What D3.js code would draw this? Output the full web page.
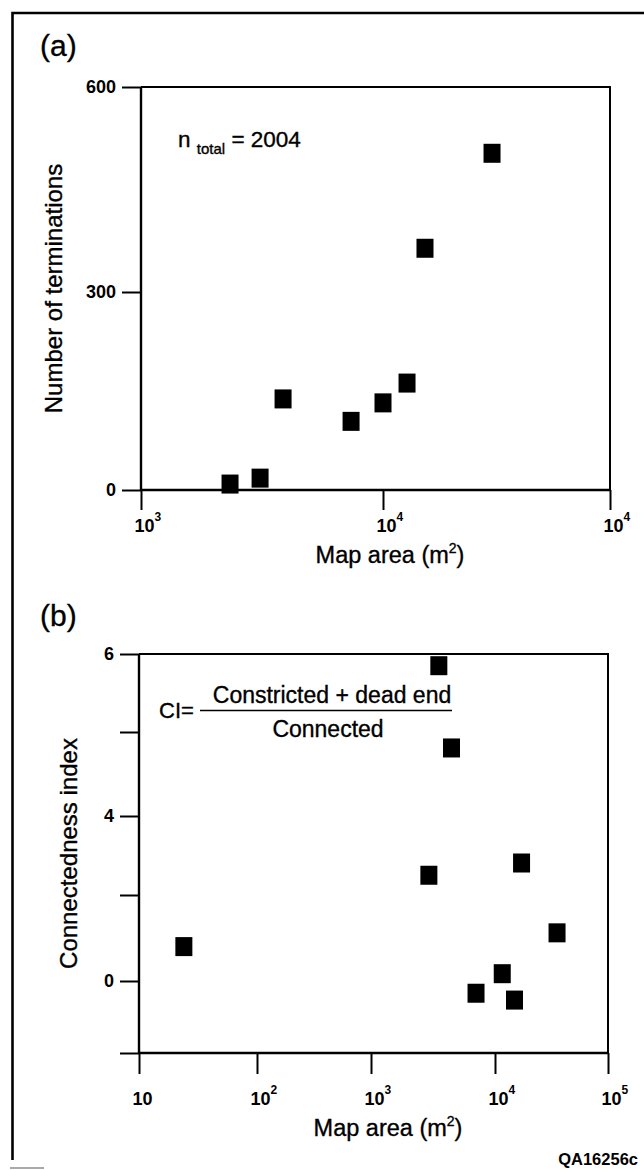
<!DOCTYPE html>
<html>
<head>
<meta charset="utf-8">
<script src="https://cdn.jsdelivr.net/npm/d3@7/dist/d3.min.js"></script>
<style>
  html, body { margin: 0; padding: 0; background: #fff; }
  svg { display: block; }
  text { font-family: "Liberation Sans", Arial, Helvetica, sans-serif; fill: #000; }
  .heavy { stroke: #000; stroke-width: 0.35px; }
</style>
</head>
<body>
<svg id="chart" width="644" height="1170"></svg>
<script>
// ---------- Data: panel (a) ----------
const xTicksA = [1e3, 1e4, 1e5];
const xTickBaseA = ["10", "10", "10"];
const xTickExpA = ["3", "4", "4"];          // printed as in the original figure
const yTicksA = [0, 300, 600];
const yTickLabelsA = ["0", "300", "600"];
const areaA = [2333, 3105, 3864, 7380, 10000, 12760, 15310, 30220];
const terminationsA = [9, 18, 138, 104, 132, 162, 364, 503];

// ---------- Data: panel (b) ----------
const xTicksB = [10, 100, 1e3, 1e4, 1e5];
const xTickBaseB = ["10", "10", "10", "10", "10"];
const xTickExpB = ["", "2", "3", "4", "5"];
const yTicksB = [-2, 0, 2, 4, 5, 6];
const yTickLabelsB = ["", "0", "", "4", "", "6"];
const areaB = [24, 2929, 3524, 4459, 7031, 11590, 14880, 17180, 35400];
const ciB = [0.80, 2.50, 5.85, 4.81, -0.34, 0.17, -0.53, 2.81, 1.12];

// ---------- Drawing ----------
const svg = d3.select("#chart");
const FONT = '"Liberation Sans", Arial, Helvetica, sans-serif';
const SQ_W = 17, SQ_H = 19;

// outer frame
svg.append("path")
  .attr("d", "M12.5,1160 V13 H644")
  .attr("fill", "none").attr("stroke", "#000").attr("stroke-width", 2.6);
svg.append("line").attr("x1", 10).attr("x2", 44).attr("y1", 1168).attr("y2", 1168)
  .attr("stroke", "#aaa").attr("stroke-width", 2);

function panel(opt) {
  const g = svg.append("g");
  const x = opt.x, y = opt.y;
  const [x0, x1] = [x.range()[0], x.range()[x.range().length - 1]];
  const [yb, yt] = [y.range()[0], y.range()[y.range().length - 1]];

  // box top & right
  g.append("path")
    .attr("d", `M${x0},${yt} H${x1} V${yb}`)
    .attr("fill", "none").attr("stroke", "#000").attr("stroke-width", 2);

  // x axis
  const gx = g.append("g").attr("transform", `translate(0,${yb})`)
    .call(d3.axisBottom(x).tickValues(opt.xTicks).tickSize(opt.xTickLen).tickSizeOuter(0).tickFormat(() => ""));
  gx.select(".domain").attr("stroke-width", 2.4).attr("d", `M${x0},0H${x1}`);
  gx.selectAll(".tick line").attr("stroke-width", 2);
  gx.selectAll(".tick text").remove();
  gx.selectAll(".tick").each(function (d, i) {
    const t = d3.select(this);
    t.append("text")
      .attr("x", 3).attr("y", opt.xLabelBase)
      .attr("text-anchor", "middle")
      .attr("font-size", 18).attr("font-weight", "bold")
      .text(opt.xBase[i]);
    if (opt.xExp[i]) {
      t.append("text")
        .attr("x", 13).attr("y", opt.xLabelBase - 11)
        .attr("text-anchor", "start")
        .attr("font-size", 12).attr("font-weight", "bold")
        .text(opt.xExp[i]);
    }
  });

  // y axis
  const gy = g.append("g").attr("transform", `translate(${x0},0)`)
    .call(d3.axisLeft(y).tickValues(opt.yTicks).tickSize(19).tickSizeOuter(0).tickPadding(6)
      .tickFormat((d, i) => opt.yLabels[i]));
  gy.select(".domain").attr("stroke-width", 2.4).attr("d", `M0,${yb}V${yt}`);
  gy.selectAll(".tick line").attr("stroke-width", 2);
  gy.selectAll(".tick text")
    .attr("font-family", FONT).attr("font-size", 18).attr("font-weight", "bold")
    .attr("fill", "#000");

  // points
  g.append("g").selectAll("rect")
    .data(opt.xs.map((v, i) => [v, opt.ys[i]]))
    .join("rect")
    .attr("x", d => x(d[0]) - SQ_W / 2)
    .attr("y", d => y(d[1]) - SQ_H / 2)
    .attr("width", SQ_W).attr("height", SQ_H)
    .attr("fill", "#000");

  // axis titles
  const xt = g.append("text")
    .attr("class", "heavy")
    .attr("x", opt.xTitleX).attr("y", opt.xTitleY)
    .attr("text-anchor", "middle").attr("font-size", 23.5);
  xt.append("tspan").text("Map area (m");
  xt.append("tspan").attr("font-size", 14).attr("dy", -10).text("2");
  xt.append("tspan").attr("dy", 10).text(")");

  g.append("text")
    .attr("class", "heavy")
    .attr("transform", `translate(${opt.yTitleX},${(yt + yb) / 2}) rotate(-90)`)
    .attr("text-anchor", "middle").attr("font-size", 24)
    .text(opt.yTitle);

  // panel letter
  g.append("text")
    .attr("class", "heavy")
    .attr("x", 40).attr("y", opt.letterY)
    .attr("font-size", 30)
    .text(opt.letter);
  return g;
}

// Panel (a)
const xA = d3.scaleLog().domain(xTicksA).range([141, 383, 610]);
const yA = d3.scaleLinear().domain(yTicksA).range([490, 292, 87]);
panel({
  x: xA, y: yA,
  xTicks: xTicksA, xBase: xTickBaseA, xExp: xTickExpA, xTickLen: 20, xLabelBase: 42,
  yTicks: yTicksA, yLabels: yTickLabelsA,
  xs: areaA, ys: terminationsA,
  xTitleX: 390, xTitleY: 563,
  yTitleX: 62, yTitle: "Number of terminations",
  letter: "(a)", letterY: 56
});
// n total annotation
const nt = svg.append("text").attr("class", "heavy").attr("x", 178).attr("y", 147).attr("font-size", 22.5);
nt.append("tspan").text("n ");
nt.append("tspan").attr("font-size", 15).attr("dy", 7).text("total");
nt.append("tspan").attr("dy", -7).text(" = 2004");

// Panel (b)
const xB = d3.scaleLog().domain(xTicksB).range([139, 257, 371, 495, 608]);
const yB = d3.scaleLinear().domain(yTicksB).range([1053, 981, 895, 816, 732, 654]);
panel({
  x: xB, y: yB,
  xTicks: xTicksB, xBase: xTickBaseB, xExp: xTickExpB, xTickLen: 21, xLabelBase: 52,
  yTicks: yTicksB, yLabels: yTickLabelsB,
  xs: areaB, ys: ciB,
  xTitleX: 388, xTitleY: 1136,
  yTitleX: 77, yTitle: "Connectedness index",
  letter: "(b)", letterY: 626
});
// CI formula
svg.append("text").attr("class", "heavy").attr("x", 159).attr("y", 718).attr("font-size", 22).text("CI=");
svg.append("line").attr("x1", 200).attr("x2", 452).attr("y1", 710.5).attr("y2", 710.5)
  .attr("stroke", "#000").attr("stroke-width", 1.6);
svg.append("text").attr("class", "heavy").attr("x", 332).attr("y", 703).attr("text-anchor", "middle")
  .attr("font-size", 23).text("Constricted + dead end");
svg.append("text").attr("class", "heavy").attr("x", 328).attr("y", 737).attr("text-anchor", "middle")
  .attr("font-size", 23).text("Connected");

// figure code
svg.append("text").attr("x", 638).attr("y", 1165).attr("text-anchor", "end")
  .attr("font-size", 16.5).attr("font-weight", "bold").text("QA16256c");
</script>
</body>
</html>
